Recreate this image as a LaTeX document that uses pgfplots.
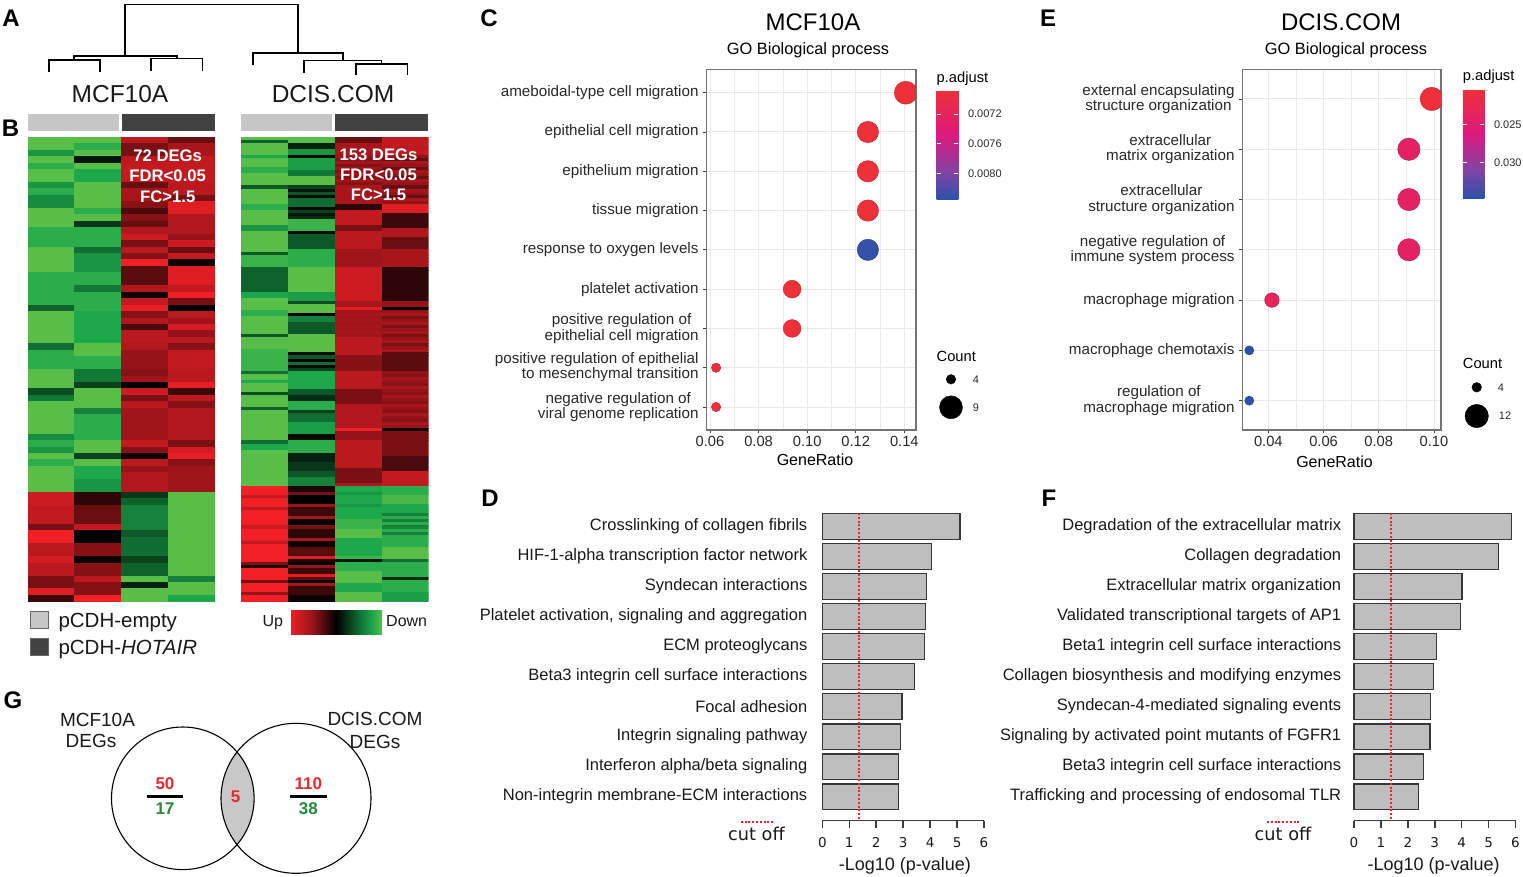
\documentclass[border=0pt]{standalone}
\usepackage{pgfplots}
\pgfplotsset{compat=1.18}
\usepackage{pgfplotstable}
\usepackage{fontspec}
\setmainfont{Liberation Sans}
\newfontfamily\dvs{DejaVu Sans}
\newcommand\fs[1]{\fontsize{#1}{#1}\selectfont}
\definecolor{txt}{RGB}{25,25,25}
\definecolor{lab}{RGB}{40,40,40}
\definecolor{gridc}{RGB}{233,233,233}
\definecolor{panelb}{RGB}{115,115,115}
\definecolor{tickc}{RGB}{60,60,60}
\definecolor{barg}{RGB}{190,190,190}
\definecolor{bard}{RGB}{55,55,55}
\definecolor{axg}{RGB}{60,60,60}
\definecolor{cutred}{RGB}{240,35,40}
\definecolor{vred}{RGB}{238,40,45}
\definecolor{vgreen}{RGB}{35,140,60}
\definecolor{grpL}{RGB}{198,198,198}
\definecolor{grpD}{RGB}{66,66,66}
\definecolor{lensg}{RGB}{200,200,200}
\pgfplotsset{
 colormap={hm}{rgb255(0cm)=(240,32,38); rgb255(5cm)=(150,20,25); rgb255(10cm)=(0,0,0); rgb255(15cm)=(16,110,50); rgb255(18cm)=(30,168,76); rgb255(20cm)=(88,190,72)},
 colormap={padj}{rgb255(0cm)=(40,82,168); rgb255(2.5cm)=(128,68,165); rgb255(6cm)=(222,25,125); rgb255(10cm)=(238,48,56)},
}
\pgfdeclareplotmark{cellM}{\pgfpathrectangle{\pgfqpoint{-23.5pt}{-3.35pt}}{\pgfqpoint{47pt}{6.7pt}}\pgfusepathqfill}
\pgfdeclareplotmark{cellD}{\pgfpathrectangle{\pgfqpoint{-23.55pt}{-1.62pt}}{\pgfqpoint{47.1pt}{3.25pt}}\pgfusepathqfill}

% MCF10A heatmap: 72 DEGs, columns = empty1 empty2 HOTAIR1 HOTAIR2 (-1 red/up ... 1 green/down)
\pgfplotstableread{
a b c d
1.0 1.0 -0.7 -0.35
1.0 0.85 -0.4 -0.6
0.7 1.0 -0.4 -0.6
1.0 0.1 -0.7 -0.75
0.85 1.0 -0.75 -0.75
1.0 0.8 -0.75 -0.75
1.0 0.8 -0.75 -0.75
0.7 1.0 -0.35 -0.7
0.85 1.0 -0.6 -0.7
0.65 1.0 -0.6 -0.4
0.65 1.0 -0.45 -0.9
1.0 0.85 -0.25 -0.9
1.0 1.0 -0.45 -0.65
1.0 0.25 -0.35 -0.65
0.85 0.85 -0.65 -0.65
0.85 0.85 -0.8 -0.5
0.85 0.85 -0.4 -0.8
1.0 0.5 -0.7 -0.35
1.0 0.7 -0.45 -0.75
1.0 0.7 -1.0 -0.05
1.0 0.7 -0.3 -0.9
0.85 0.85 -0.3 -0.9
0.85 0.85 -0.3 -0.9
0.85 0.55 -0.65 -0.75
0.85 0.85 -0.05 -1.0
0.85 0.85 -0.75 -0.4
0.45 0.85 -0.95 0.0
1.0 0.8 -0.45 -0.7
1.0 0.8 -0.65 -0.55
1.0 0.8 -0.25 -0.85
1.0 0.8 -0.7 -0.5
1.0 0.8 -0.7 -0.7
0.5 1.0 -0.65 -0.45
0.85 1.0 -0.5 -0.75
0.85 0.85 -0.5 -0.75
0.85 0.85 -0.5 -0.75
1.0 0.55 -0.45 -0.7
1.0 0.55 -0.55 -0.7
1.0 0.3 0.0 -0.95
0.35 1.0 -0.8 -0.2
0.55 1.0 -0.4 -0.7
1.0 1.0 -0.7 -0.45
1.0 0.6 -0.55 -0.65
1.0 0.85 -0.55 -0.65
1.0 0.85 -0.55 -0.65
1.0 0.85 -0.55 -0.65
0.65 0.85 -0.55 -0.65
0.85 1.0 -0.75 -0.4
0.7 1.0 -0.45 -0.85
1.0 0.3 -0.05 -0.95
0.85 1.0 -0.7 -0.45
1.0 0.8 -0.5 -0.55
1.0 0.8 -0.65 -0.55
1.0 0.7 -0.65 -0.55
1.0 0.7 -0.65 -0.55
-0.8 -0.15 0.25 1.0
-0.8 -0.15 0.45 1.0
-0.75 -0.35 0.6 1.0
-0.75 -0.35 0.6 1.0
-0.75 -0.35 0.6 1.0
-0.4 -0.75 0.6 1.0
-1.0 0.0 0.4 1.0
-1.0 0.0 0.5 1.0
-0.7 -0.45 0.5 1.0
-0.7 -0.45 0.5 1.0
-0.85 -0.05 0.3 1.0
-0.7 -0.45 0.45 1.0
-0.7 -0.45 0.45 1.0
-0.4 -0.7 1.0 0.6
-0.4 -0.45 0.15 1.0
-0.9 -0.45 1.0 1.0
-0.2 -1.0 1.0 0.8
}\mcf

% DCIS.COM heatmap: 153 DEGs
\pgfplotstableread{
a b c d
1.0 1.0 -0.35 -0.75
0.45 1.0 -0.35 -0.75
1.0 0.15 -0.6 -0.75
1.0 0.15 -0.6 -0.7
1.0 0.7 -0.6 -0.75
1.0 0.7 -0.6 -0.75
0.8 0.05 -0.55 -0.5
1.0 0.75 -0.45 -0.35
1.0 0.75 -0.55 -0.6
1.0 0.75 -0.45 -0.5
0.85 0.75 -0.55 -0.35
0.85 0.55 -0.45 -0.6
1.0 0.55 -0.55 -0.5
1.0 1.0 -0.45 -0.35
1.0 1.0 -0.55 -0.6
1.0 1.0 -0.45 -0.5
0.4 0.3 -0.6 -0.35
1.0 0.1 -0.6 -0.6
1.0 0.4 -0.6 -0.5
1.0 0.05 -0.6 -0.35
1.0 0.5 -0.6 -0.6
1.0 0.5 -0.6 -0.5
0.85 0.5 -0.15 -0.9
0.85 0.05 -0.15 -0.9
1.0 0.3 -0.75 -0.9
1.0 0.1 -0.75 -0.2
1.0 0.2 -0.75 -0.2
1.0 0.9 -0.75 -0.2
1.0 0.9 -0.75 -0.2
0.7 0.9 -0.4 -0.2
0.7 0.9 -0.4 -0.65
1.0 0.05 -0.7 -0.65
1.0 0.4 -0.7 -0.65
1.0 0.4 -0.7 -0.35
1.0 0.4 -0.7 -0.35
1.0 0.4 -0.7 -0.35
1.0 0.4 -0.7 -0.35
1.0 0.85 -0.55 -0.6
0.4 0.85 -0.55 -0.6
0.9 0.85 -0.55 -0.6
0.9 0.85 -0.55 -0.6
0.9 0.85 -0.55 -0.6
0.9 0.85 -0.55 -0.6
0.45 1.0 -0.8 -0.15
0.45 1.0 -0.8 -0.15
0.45 1.0 -0.8 -0.15
0.45 1.0 -0.8 -0.15
0.45 1.0 -0.8 -0.15
0.45 1.0 -0.8 -0.15
0.45 1.0 -0.8 -0.15
0.45 1.0 -0.8 -0.15
0.8 0.75 -0.8 -0.15
0.8 0.75 -0.8 -0.15
1.0 0.75 -0.8 -0.15
1.0 0.35 -0.6 -0.5
1.0 1.0 -0.6 -0.5
1.0 1.0 -0.95 -0.02
0.85 1.0 -0.55 -0.5
0.85 0.0 -0.6 -0.6
1.0 0.6 -0.55 -0.4
1.0 0.6 -0.6 -0.5
1.0 0.4 -0.55 -0.6
1.0 0.4 -0.6 -0.4
1.0 0.4 -0.55 -0.5
1.0 0.4 -0.6 -0.6
0.4 1.0 -0.55 -0.4
1.0 1.0 -0.7 -0.5
1.0 1.0 -0.7 -0.6
1.0 1.0 -0.7 -0.4
1.0 1.0 -0.7 -0.5
0.9 1.0 -0.7 -0.6
0.9 0.05 -0.7 -0.3
0.9 0.4 -0.45 -0.3
0.9 0.0 -0.45 -0.3
0.9 0.5 -0.45 -0.3
0.9 0.05 -0.45 -0.3
0.9 0.3 -0.45 -0.3
0.5 0.8 -0.7 -0.5
1.0 0.8 -0.7 -0.45
1.0 0.8 -0.7 -0.6
0.8 0.8 -0.7 -0.5
1.0 0.8 -0.7 -0.45
1.0 0.8 -0.7 -0.6
1.0 0.4 -0.4 -0.5
0.35 0.4 -0.4 -0.45
1.0 0.2 -0.4 -0.6
1.0 0.2 -0.4 -0.5
1.0 0.85 -0.4 -0.45
1.0 0.85 -0.65 -0.6
0.45 0.85 -0.65 -0.5
1.0 0.3 -0.65 -0.45
1.0 0.5 -0.65 -0.6
1.0 0.5 -0.65 -0.5
1.0 0.5 -0.65 -0.45
1.0 0.75 -0.65 -0.6
1.0 0.75 -0.65 -0.5
1.0 0.75 -1.0 -0.05
1.0 0.75 -0.5 -0.4
1.0 0.05 -0.5 -0.4
1.0 0.05 -0.5 -0.4
0.5 0.85 -0.7 -0.4
0.8 0.85 -0.7 -0.4
0.8 0.85 -0.7 -0.4
1.0 0.85 -0.7 -0.4
1.0 0.15 -0.7 -0.4
1.0 0.15 -0.7 -0.25
1.0 0.15 -0.7 -0.25
1.0 0.25 -0.7 -0.25
1.0 0.25 -0.7 -0.25
1.0 0.25 -0.4 -0.25
1.0 0.4 -0.4 -0.75
1.0 0.4 -0.4 -0.75
1.0 0.6 -0.4 -0.75
1.0 0.6 -0.4 -0.75
1.0 0.6 -0.65 -0.75
-1.0 -0.1 0.8 0.85
-1.0 -0.1 0.8 0.85
-1.0 -0.4 0.7 0.85
-0.75 0.0 0.8 0.95
-1.0 0.0 0.8 0.95
-1.0 0.0 0.8 0.95
-1.0 -0.5 0.7 0.8
-0.75 -0.2 0.8 0.8
-1.0 -0.2 0.8 0.8
-1.0 -0.2 0.8 0.6
-1.0 -0.6 0.8 0.85
-1.0 0.0 0.9 0.6
-1.0 0.0 0.9 0.85
-0.8 -0.4 0.9 0.6
-1.0 -0.15 1.0 0.85
-1.0 -0.15 1.0 0.6
-1.0 -0.15 1.0 0.85
-1.0 -0.6 0.8 0.85
-0.75 -0.05 0.8 0.85
-1.0 -0.05 0.8 0.85
-1.0 -0.3 0.8 1.0
-1.0 -0.3 0.8 1.0
-1.0 -0.3 0.8 1.0
-1.0 -0.9 0.9 1.0
-1.0 -0.1 0.1 0.5
-0.4 0.0 0.85 0.85
-0.1 -0.5 0.85 0.85
-1.0 -0.2 0.85 0.85
-1.0 -0.2 1.0 0.85
-1.0 -0.9 1.0 0.85
-1.0 -0.3 1.0 0.2
-0.4 0.0 1.0 0.85
-1.0 -0.6 0.8 0.85
-1.0 -0.2 0.8 0.85
-1.0 -0.2 0.8 0.85
-0.5 -0.2 1.0 0.75
-1.0 -0.05 1.0 0.75
-1.0 -0.05 1.0 0.75
}\dcis

% GO dot plots (listed top to bottom): GeneRatio, Count, p.adjust, dot radius (pt)
\pgfplotstableread{
g n p r
0.1406 9 0.0069 11.5
0.1250 8 0.0069 10.7
0.1250 8 0.0069 10.7
0.1250 8 0.0069 10.7
0.1250 8 0.0083 10.7
0.0938 6 0.0069 8.9
0.0938 6 0.0069 8.9
0.0625 4 0.0069 4.7
0.0625 4 0.0069 4.7
}\dataC
\pgfplotstableread{
g n p r
0.0992 12 0.0206 11.7
0.0909 11 0.0240 11.2
0.0909 11 0.0240 11.2
0.0909 11 0.0240 11.2
0.0413 5 0.0232 7.3
0.0331 4 0.0345 4.6
0.0331 4 0.0345 4.6
}\dataE
% pathway bars (top to bottom): position k, -log10 p
\pgfplotstableread{
k v
9 5.11
8 4.06
7 3.87
6 3.83
5 3.79
4 3.43
3 2.96
2 2.90
1 2.84
0 2.84
}\dataD
\pgfplotstableread{
k v
9 5.85
8 5.37
7 4.01
6 3.96
5 3.05
4 2.94
3 2.83
2 2.82
1 2.57
0 2.39
}\dataF

\pgfplotsset{
 dotaxis/.style={anchor=north west, scale only axis,
  grid=both, major grid style={draw=gridc, line width=1pt}, minor grid style={draw=gridc, line width=0.6pt},
  axis line style={draw=panelb, line width=1.1pt},
  tick align=outside, tick pos=left, major tick length=3.5pt, minor tick length=0pt,
  tick style={draw=tickc, line width=0.9pt},
  xticklabel style={font=\fs{14.7}, text=lab, inner sep=0pt, yshift=-3pt},
  yticklabel style={font=\fontsize{15.2}{15.3}\selectfont, text=lab, inner sep=0pt, xshift=-4.5pt, align=center},
  clip marker paths=true, colormap name=padj},
 cbar/.style={scale only axis, axis on top, tick align=inside, ytick pos=both, yticklabel pos=right,
  scaled y ticks=false,
  major tick length=4.5pt, ytick style={draw=white, line width=0.8pt}, xtick=\empty,
  axis line style={draw=none}, yticklabel style={font=\fs{11}, text=lab, inner sep=0pt, xshift=9.5pt}},
 baraxis/.style={anchor=south west, scale only axis, height=312.2pt, xmin=0, xmax=6, ymin=-0.8, ymax=9.6,
  axis x line*=bottom, axis y line*=left, y axis line style={draw=none},
  x axis line style={draw=axg, line width=1.5pt},
  xtick={0,1,2,3,4,5,6}, xticklabels={0,1,2,3,4,5,6},
  xtick style={draw=axg, line width=1.5pt}, tick align=outside, major tick length=7pt,
  ytick={0,...,9}, ytick style={draw=none},
  xticklabel style={font=\dvs\fs{13.5}, text=txt, inner sep=0pt, yshift=-10pt},
  yticklabel style={font=\fs{16.5}, text=txt, inner sep=0pt},
  clip=false},
 hmaxis/.style={anchor=north west, scale only axis, width=187.3pt, height=464.5pt, xmin=-0.5, xmax=3.5,
  y dir=reverse, hide axis, clip marker paths=true, colormap name=hm, point meta min=-1, point meta max=1},
}

\begin{document}
\begin{tikzpicture}
\useasboundingbox (0pt,0pt) rectangle (1523pt,-877pt);

% ---------- B: heatmaps ----------
\begin{axis}[hmaxis, at={(27.7pt,-137pt)}, ymin=-0.5, ymax=71.5]
\addplot[scatter, only marks, mark=cellM, point meta=explicit] table[x expr=0, y expr=\coordindex, meta=a] {\mcf};
\addplot[scatter, only marks, mark=cellM, point meta=explicit] table[x expr=1, y expr=\coordindex, meta=b] {\mcf};
\addplot[scatter, only marks, mark=cellM, point meta=explicit] table[x expr=2, y expr=\coordindex, meta=c] {\mcf};
\addplot[scatter, only marks, mark=cellM, point meta=explicit] table[x expr=3, y expr=\coordindex, meta=d] {\mcf};
\end{axis}
\begin{axis}[hmaxis, at={(240.9pt,-137pt)}, width=187.6pt, ymin=-0.5, ymax=152.5,
  colorbar horizontal, colorbar/width=23.8pt,
  colorbar style={at={(parent axis.south west)}, anchor=north west, xshift=49.1pt, yshift=-0.7pt,
  scale only axis, width=92pt, xtick=\empty, ytick=\empty, axis line style={draw=none}}]
\addplot[scatter, only marks, mark=cellD, point meta=explicit] table[x expr=0, y expr=\coordindex, meta=a] {\dcis};
\addplot[scatter, only marks, mark=cellD, point meta=explicit] table[x expr=1, y expr=\coordindex, meta=b] {\dcis};
\addplot[scatter, only marks, mark=cellD, point meta=explicit] table[x expr=2, y expr=\coordindex, meta=c] {\dcis};
\addplot[scatter, only marks, mark=cellD, point meta=explicit] table[x expr=3, y expr=\coordindex, meta=d] {\dcis};
\end{axis}

% ---------- C: MCF10A GO ----------
\begin{axis}[dotaxis, at={(706.7pt,-69.3pt)}, width=209.3pt, height=360.7pt,
  xmin=0.05864, xmax=0.14481, ymin=-0.585, ymax=8.596,
  xtick={0.06,0.08,0.10,0.12,0.14}, xticklabels={0.06,0.08,0.10,0.12,0.14},
  minor xtick={0.07,0.09,0.11,0.13}, ytick={0,...,8},
  yticklabels={{negative regulation of\\viral genome replication},
   {\begin{tabular}{@{}r@{}}positive regulation of epithelial\\to mesenchymal transition\end{tabular}},
   {positive regulation of\\epithelial cell migration}, platelet activation, response to oxygen levels,
   tissue migration, epithelium migration, epithelial cell migration, ameboidal-type cell migration},
  point meta min=-0.008352, point meta max=-0.006888,
  colorbar, colorbar/width=21.8pt,
  colorbar style={cbar, at={(parent axis.north east)}, anchor=north west, xshift=12pt, yshift=-21.4pt,
   height=109.3pt, ytick={-0.0080,-0.0076,-0.0072}, yticklabels={0.0080,0.0076,0.0072}}]
\addplot[scatter, only marks, mark=*, point meta=explicit,
  visualization depends on={\thisrow{r}\as\rad},
  scatter/@pre marker code/.append style={/tikz/mark size=\rad}]
  table[x=g, y expr=8-\coordindex, meta expr=-\thisrow{p}] {\dataC};
\end{axis}

% ---------- E: DCIS.COM GO ----------
\begin{axis}[dotaxis, at={(1242.7pt,-69.3pt)}, width=198.3pt, height=360.7pt,
  xmin=0.03072, xmax=0.10254, ymin=-0.583, ymax=6.59,
  xtick={0.04,0.06,0.08,0.10}, xticklabels={0.04,0.06,0.08,0.10},
  minor xtick={0.03,0.05,0.07,0.09}, ytick={0,...,6},
  yticklabels={{regulation of\\macrophage migration}, macrophage chemotaxis, macrophage migration,
   {negative regulation of\\immune system process}, {extracellular\\structure organization},
   {extracellular\\matrix organization}, {external encapsulating\\structure organization}},
  point meta min=-0.03474, point meta max=-0.0204,
  colorbar, colorbar/width=21.6pt,
  colorbar style={cbar, at={(parent axis.north east)}, anchor=north west, xshift=13.2pt, yshift=-20pt,
   height=109pt, ytick={-0.030,-0.025}, yticklabels={0.030,0.025}}]
\addplot[scatter, only marks, mark=*, point meta=explicit,
  visualization depends on={\thisrow{r}\as\rad},
  scatter/@pre marker code/.append style={/tikz/mark size=\rad}]
  table[x=g, y expr=6-\coordindex, meta expr=-\thisrow{p}] {\dataE};
\end{axis}

% ---------- D: MCF10A pathways ----------
\begin{axis}[baraxis, at={(822.3pt,-820.7pt)}, width=161.7pt,
  yticklabel style={xshift=-7.8pt},
  yticklabels={Non-integrin membrane-ECM interactions, Interferon alpha/beta signaling, Integrin signaling pathway,
   Focal adhesion, Beta3 integrin cell surface interactions, ECM proteoglycans,
   {Platelet activation, signaling and aggregation}, Syndecan interactions,
   HIF-1-alpha transcription factor network, Crosslinking of collagen fibrils}]
\addplot[xbar, bar width=25.5pt, fill=barg, draw=bard, line width=1.2pt] table[x=v, y=k] {\dataD};
\addplot[cutred, line width=2.2pt, dash pattern=on 2pt off 1.8pt] coordinates {(1.37,9.45) (1.37,-0.8)};
\end{axis}

% ---------- F: DCIS.COM pathways ----------
\begin{axis}[baraxis, at={(1354pt,-820.7pt)}, width=161.5pt,
  yticklabel style={xshift=-5.6pt},
  yticklabels={Trafficking and processing of endosomal TLR, Beta3 integrin cell surface interactions,
   Signaling by activated point mutants of FGFR1, Syndecan-4-mediated signaling events,
   Collagen biosynthesis and modifying enzymes, Beta1 integrin cell surface interactions,
   Validated transcriptional targets of AP1, Extracellular matrix organization,
   Collagen degradation, Degradation of the extracellular matrix}]
\addplot[xbar, bar width=25.5pt, fill=barg, draw=bard, line width=1.2pt] table[x=v, y=k] {\dataF};
\addplot[cutred, line width=2.2pt, dash pattern=on 2pt off 1.8pt] coordinates {(1.37,9.45) (1.37,-0.8)};
\end{axis}

% ---------- overlay (pixel coordinates) ----------
\begin{axis}[at={(0pt,0pt)}, anchor=north west, scale only axis, width=1523pt, height=877pt,
  xmin=0, xmax=1523, ymin=0, ymax=877, y dir=reverse, hide axis, clip=false]
% A: dendrogram
\addplot[black, line width=1.3pt] coordinates {(125,56) (125,4.3) (298,4.3) (298,53)};
\addplot[black, line width=1.3pt] coordinates {(74,60) (74,56) (177,56) (177,58.5)};
\addplot[black, line width=1.3pt] coordinates {(49,71.5) (49,60) (100,60) (100,71.5)};
\addplot[black, line width=1.3pt] coordinates {(151,70.6) (151,58.5) (202.7,58.5) (202.7,70.6)};
\addplot[black, line width=1.3pt] coordinates {(253,65) (253,53) (343,53) (343,60.6)};
\addplot[black, line width=1.3pt] coordinates {(304,72.7) (304,60.6) (381.7,60.6) (381.7,64)};
\addplot[black, line width=1.3pt] coordinates {(356,74.5) (356,64) (407.3,64) (407.3,74.5)};
% group bars
\fill[grpL] (axis cs:27.7,114) rectangle (axis cs:119.3,130.5);
\fill[grpD] (axis cs:122.3,114) rectangle (axis cs:215,130.5);
\fill[grpL] (axis cs:240.7,114) rectangle (axis cs:332.3,130.5);
\fill[grpD] (axis cs:335,114) rectangle (axis cs:427.7,130.5);
% legend squares
\filldraw[fill=grpL, draw=black!60, line width=0.8pt] (axis cs:30.7,611) rectangle (axis cs:48.3,628.6);
\filldraw[fill=grpD, draw=black!60, line width=0.8pt] (axis cs:30.7,638.5) rectangle (axis cs:48.3,655.8);
% G: Venn
\begin{scope}
\clip (axis cs:182.8,798.3) circle[radius=71.3];
\fill[lensg] (axis cs:296,798.3) circle[radius=75];
\end{scope}
\draw[black, line width=1.1pt] (axis cs:182.8,798.3) circle[radius=71.3];
\draw[black, line width=1.1pt] (axis cs:296,798.3) circle[radius=75];
\addplot[black, line width=2.6pt] coordinates {(147.3,796.7) (183.3,796.7)};
\addplot[black, line width=2.6pt] coordinates {(290,796.7) (326.7,796.7)};
% cut-off legends
\addplot[cutred, line width=2.2pt, dash pattern=on 2pt off 1.8pt] coordinates {(740.7,821.7) (773.3,821.7)};
\addplot[cutred, line width=2.2pt, dash pattern=on 2pt off 1.8pt] coordinates {(1267,821.7) (1300,821.7)};
% Count legend keys
\addplot[only marks, mark=*, black, mark size=4.8] coordinates {(951,379.3) (1476.7,387.3)};
\addplot[only marks, mark=*, black, mark size=11.5] coordinates {(951,407.3)};
\addplot[only marks, mark=*, black, mark size=11.7] coordinates {(1476.7,416)};

% panel letters
\node[anchor=base, inner sep=0pt, font=\bfseries\fs{24}] at (axis cs:11,26.1) {A};
\node[anchor=base, inner sep=0pt, font=\bfseries\fs{24}] at (axis cs:10.5,136.6) {B};
\node[anchor=base, inner sep=0pt, font=\bfseries\fs{24}] at (axis cs:489,26.1) {C};
\node[anchor=base, inner sep=0pt, font=\bfseries\fs{24}] at (axis cs:490,506.6) {D};
\node[anchor=base, inner sep=0pt, font=\bfseries\fs{24}] at (axis cs:1048,26.6) {E};
\node[anchor=base, inner sep=0pt, font=\bfseries\fs{24}] at (axis cs:1049,506.6) {F};
\node[anchor=base, inner sep=0pt, font=\bfseries\fs{24}] at (axis cs:13,708.6) {G};
% B texts
\node[anchor=base, inner sep=0pt, font=\fs{24.5}, text=txt] at (axis cs:120,102.8) {MCF10A};
\node[anchor=base, inner sep=0pt, font=\fs{24.5}, text=txt] at (axis cs:333,102.8) {DCIS.COM};
\node[anchor=base, inner sep=0pt, font=\bfseries\fs{16.7}, text=white] at (axis cs:167.7,161.7) {72 DEGs};
\node[anchor=base, inner sep=0pt, font=\bfseries\fs{16.7}, text=white] at (axis cs:167.7,181.7) {FDR<0.05};
\node[anchor=base, inner sep=0pt, font=\bfseries\fs{16.7}, text=white] at (axis cs:167.7,202) {FC>1.5};
\node[anchor=base, inner sep=0pt, font=\bfseries\fs{16.7}, text=white] at (axis cs:378.5,160.3) {153 DEGs};
\node[anchor=base, inner sep=0pt, font=\bfseries\fs{16.7}, text=white] at (axis cs:378.5,180.3) {FDR<0.05};
\node[anchor=base, inner sep=0pt, font=\bfseries\fs{16.7}, text=white] at (axis cs:378.5,200.3) {FC>1.5};
\node[anchor=base west, inner sep=0pt, font=\fs{20.5}, text=txt] at (axis cs:58.3,627.4) {pCDH-empty};
\node[anchor=base west, inner sep=0pt, font=\fs{20.5}, text=txt] at (axis cs:58.3,654.4) {pCDH-\textit{HOTAIR}};
\node[anchor=base east, inner sep=0pt, font=\fs{16}, text=txt] at (axis cs:283.3,626.8) {Up};
\node[anchor=base west, inner sep=0pt, font=\fs{16}, text=txt] at (axis cs:386,626.8) {Down};
% C texts
\node[anchor=base, inner sep=0pt, font=\fs{24}, text=black] at (axis cs:813,30.3) {MCF10A};
\node[anchor=base, inner sep=0pt, font=\fs{16.4}, text=black] at (axis cs:808,54.9) {GO Biological process};
\node[anchor=base, inner sep=0pt, font=\fs{16}, text=black] at (axis cs:815,465.8) {GeneRatio};
\node[anchor=base west, inner sep=0pt, font=\fs{14.7}, text=black] at (axis cs:936.5,82.1) {p.adjust};
\node[anchor=base west, inner sep=0pt, font=\fs{14.7}, text=black] at (axis cs:936.5,361.3) {Count};
\node[anchor=base, inner sep=0pt, font=\fs{11}, text=lab] at (axis cs:976,383.2) {4};
\node[anchor=base, inner sep=0pt, font=\fs{11}, text=lab] at (axis cs:976,411.2) {9};
% E texts
\node[anchor=base, inner sep=0pt, font=\fs{24}, text=black] at (axis cs:1341,30.3) {DCIS.COM};
\node[anchor=base, inner sep=0pt, font=\fs{16.4}, text=black] at (axis cs:1346,54.9) {GO Biological process};
\node[anchor=base, inner sep=0pt, font=\fs{16}, text=black] at (axis cs:1334.5,467.5) {GeneRatio};
\node[anchor=base west, inner sep=0pt, font=\fs{14.7}, text=black] at (axis cs:1462.7,80.5) {p.adjust};
\node[anchor=base west, inner sep=0pt, font=\fs{14.7}, text=black] at (axis cs:1462.7,368.6) {Count};
\node[anchor=base, inner sep=0pt, font=\fs{11}, text=lab] at (axis cs:1501,391.2) {4};
\node[anchor=base, inner sep=0pt, font=\fs{11}, text=lab] at (axis cs:1505,419.9) {12};
% D / F texts
\node[anchor=base, inner sep=0pt, font=\fs{18}, text=txt] at (axis cs:904.8,870.5) {-Log10 (p-value)};
\node[anchor=base, inner sep=0pt, font=\fs{18}, text=txt] at (axis cs:1433.6,870.5) {-Log10 (p-value)};
\node[anchor=base, inner sep=0pt, font=\dvs\fs{17.7}, text=txt] at (axis cs:756.5,840) {cut off};
\node[anchor=base, inner sep=0pt, font=\dvs\fs{17.7}, text=txt] at (axis cs:1283,840) {cut off};
% G texts
\node[anchor=base, inner sep=0pt, font=\fs{19}, text=txt] at (axis cs:97.5,726.8) {MCF10A};
\node[anchor=base, inner sep=0pt, font=\fs{19}, text=txt] at (axis cs:91,747.8) {DEGs};
\node[anchor=base, inner sep=0pt, font=\fs{19}, text=txt] at (axis cs:375,725.1) {DCIS.COM};
\node[anchor=base, inner sep=0pt, font=\fs{19}, text=txt] at (axis cs:375,748.5) {DEGs};
\node[anchor=base, inner sep=0pt, font=\bfseries\fs{17}, text=vred] at (axis cs:165,789.4) {50};
\node[anchor=base, inner sep=0pt, font=\bfseries\fs{17}, text=vgreen] at (axis cs:165,814.4) {17};
\node[anchor=base, inner sep=0pt, font=\bfseries\fs{17}, text=vred] at (axis cs:235.7,802.8) {5};
\node[anchor=base, inner sep=0pt, font=\bfseries\fs{17}, text=vred] at (axis cs:308.3,789.4) {110};
\node[anchor=base, inner sep=0pt, font=\bfseries\fs{17}, text=vgreen] at (axis cs:308.3,814.4) {38};
\end{axis}
\end{tikzpicture}
\end{document}
